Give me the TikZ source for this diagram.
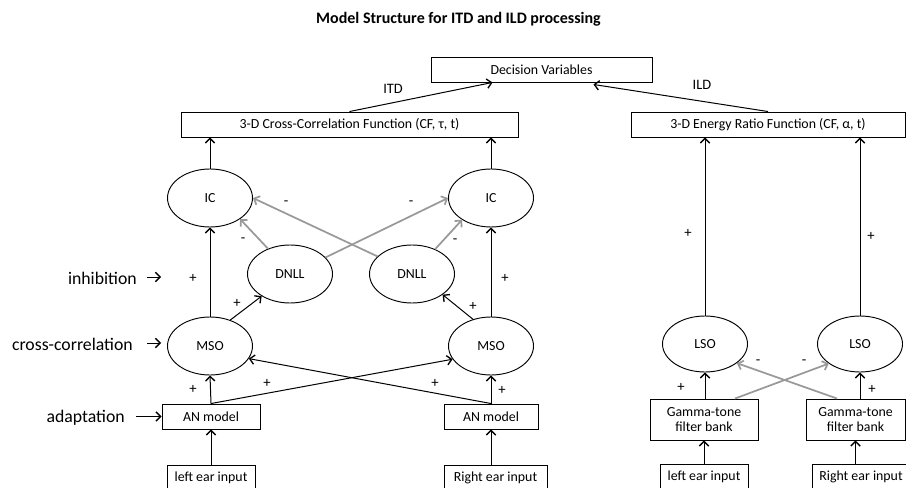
\documentclass[tikz,border=0pt]{standalone}
\usepackage{fontspec}
\setmainfont{Carlito}
\usetikzlibrary{shapes.geometric,arrows.meta,calc}
\definecolor{inh}{HTML}{999999}
\tikzset{
  box/.style={draw, line width=0.7pt, rectangle, inner sep=0pt, minimum height=18.75pt, font=\fontsize{10.4pt}{11.5pt}\selectfont, align=center},
  oval/.style={draw, line width=0.7pt, ellipse, inner sep=0pt, minimum width=63.75pt, minimum height=43.5pt, font=\fontsize{10.4pt}{11.5pt}\selectfont},
  exc/.style={draw, line width=0.75pt, -{Straight Barb[length=3.5pt,width=7pt,line width=1pt]}},
  inhib/.style={draw=inh, line width=1.3pt, -{Straight Barb[length=3.5pt,width=7pt]}},
  sign/.style={inner sep=0pt, font=\fontsize{11pt}{12pt}\selectfont},
  side/.style={inner sep=0pt, font=\fontsize{13.3pt}{15pt}\selectfont},
  arlab/.style={inner sep=0pt, font=\fontsize{10.8pt}{12pt}\selectfont},
}
\begin{document}
\begin{tikzpicture}[x=0.75pt, y=-0.75pt]
\useasboundingbox (0,0) rectangle (906,488);
% title
\node[inner sep=0pt, anchor=base east, font=\bfseries\fontsize{12pt}{14pt}\selectfont] (title) at (601,24) {Model Structure for ITD and ILD processing};
% top boxes
\node[box, minimum width=165.75pt] (DV) at (541.5,69.5) {Decision Variables};
\node[box, minimum width=252.75pt] (CC) at (349.5,124.5) {3-D Cross-Correlation Function (CF, τ, t)};
\node[box, minimum width=205.5pt] (ER) at (768,124.5) {3-D Energy Ratio Function (CF, α, t)};
% ellipses
\node[oval] (ICL) at (210,198) {IC};
\node[oval] (ICR) at (491,198) {IC};
\node[oval] (DNLLL) at (290,274) {DNLL};
\node[oval] (DNLLR) at (412,274) {DNLL};
\node[oval] (MSOL) at (210,346) {MSO};
\node[oval] (MSOR) at (491,346) {MSO};
\node[oval, minimum height=42pt] (LSOL) at (705,344) {LSO};
\node[oval, minimum height=42pt] (LSOR) at (860,344) {LSO};
% lower boxes
\node[box, minimum width=73.5pt] (ANL) at (211,416.5) {AN model};
\node[box, minimum width=70.5pt] (ANR) at (491,416.5) {AN model};
\node[box, minimum width=66pt] (EARL) at (211,477.5) {left ear input};
\node[box, minimum width=77.25pt] (EARR) at (495.5,477.5) {Right ear input};
\node[box, minimum width=81pt, minimum height=30.75pt] (GTL) at (704,419.5) {Gamma-tone\\filter bank};
\node[box, minimum width=74.25pt, minimum height=30.75pt] (GTR) at (855.5,419.5) {Gamma-tone\\filter bank};
\node[box, minimum width=66pt] (EARL2) at (704,477) {left ear input};
\node[box, minimum width=73.5pt] (EARR2) at (861,477) {Right ear input};
% ITD / ILD
\draw[exc] (CC.north) -- ($(DV.south west)+(62,0)$);
\draw[exc] (ER.north) -- ($(DV.south east)+(-59,2)$);
\node[arlab] (itd) at (393,89) {ITD};
\node[arlab] (ild) at (702,85) {ILD};
% IC to CC
\draw[exc] (ICL.north) -- (ICL.north |- CC.south);
\draw[exc] (ICR.north) -- (ICR.north |- CC.south);
% LSO to ER
\draw[exc] (LSOL.north) -- (LSOL.north |- ER.south);
\draw[exc] (LSOR.north) -- (LSOR.north |- ER.south);
% MSO to IC
\draw[exc] (MSOL.north) -- (ICL.south);
\draw[exc] (MSOR.north) -- (ICR.south);
% MSO to DNLL
\draw[exc] (MSOL.52.4) -- (DNLLL.218);
\draw[exc] (MSOR.124.7) -- (DNLLR.326);
% DNLL to IC (inhibitory)
\draw[inhib] (DNLLL.131.5) -- (ICL.325.5);
\draw[inhib] (DNLLR.153.4) -- (ICL.0);
\draw[inhib] (DNLLL.25.9) -- (ICR.180);
\draw[inhib] (DNLLR.47.3) -- (ICR.217.2);
% AN to MSO
\draw[exc] (ANL.north) -- (MSOL.south);
\draw[exc] (ANR.north) -- (MSOR.south);
\draw[exc] (ANL.north) -- (MSOR.199.7);
\draw[exc] (ANR.north) -- (MSOL.342);
% ear to AN
\draw[exc] (EARL.north) -- (ANL.south);
\draw[exc] (EARR.north -| ANR.south) -- (ANR.south);
% right side
\draw[exc] (GTL.north -| LSOL.south) -- (LSOL.south);
\draw[exc] (GTR.north -| LSOR.south) -- (LSOR.south);
\draw[inhib] ($(GTL.north)+(31,0)$) -- (LSOR.212);
\draw[inhib] ($(GTR.north)+(-18.5,0)$) -- (LSOL.329.3);
\draw[exc] (EARL2.north) -- (GTL.south);
\draw[exc] (EARR2.north -| GTR.south) -- (GTR.south);
% signs
\node[sign] (s1) at (193,278) {+};
\node[sign] (s2) at (237,303) {+};
\node[sign] (s3) at (243,240) {-};
\node[sign] (s4) at (286,203) {-};
\node[sign] (s5) at (411,203) {-};
\node[sign] (s6) at (455,241) {-};
\node[sign] (s7) at (473,306) {+};
\node[sign] (s8) at (505,278) {+};
\node[sign] (s9) at (193,389) {+};
\node[sign] (s10) at (267,383) {+};
\node[sign] (s11) at (435,383) {+};
\node[sign] (s12) at (502,390) {+};
\node[sign] (s13) at (688,233) {+};
\node[sign] (s14) at (871,236) {+};
\node[sign] (s15) at (681,387) {+};
\node[sign] (s16) at (872,389) {+};
\node[sign] (s17) at (758,362) {-};
\node[sign] (s18) at (804,362) {-};
% side labels
\node[side, anchor=east] (linh) at (137,278) {inhibition};
\node[side, anchor=east] (lcc) at (133,344) {cross-correlation};
\node[side, anchor=east] (ladp) at (125,418) {adaptation};
\coordinate (inhA) at (147,277);
\coordinate (inhB) at (161,277);
\coordinate (ccA) at (147,343);
\coordinate (ccB) at (161,343);
\coordinate (adpA) at (136,416.5);
\draw[exc] (inhA) -- (inhB);
\draw[exc] (ccA) -- (ccB);
\draw[exc] (adpA) -- (ANL.west);
\end{tikzpicture}
\end{document}
